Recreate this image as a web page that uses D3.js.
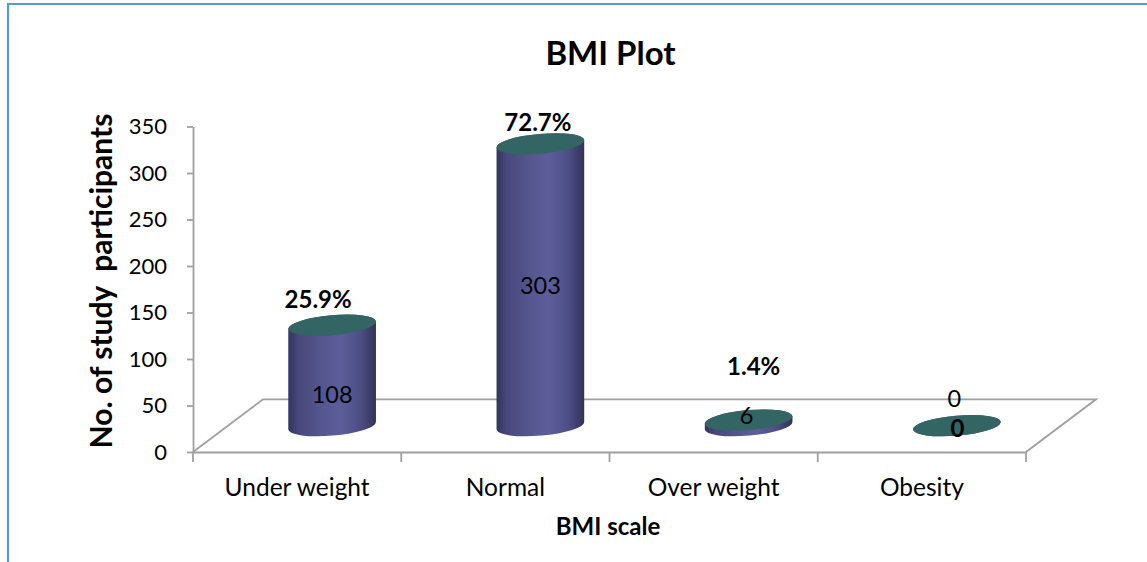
<!DOCTYPE html>
<html>
<head>
<meta charset="utf-8">
<script src="https://cdn.jsdelivr.net/npm/d3@7"></script>
<style>
  html, body { margin: 0; padding: 0; background: #fff; }
  svg { display: block; font-family: Lato, "Open Sans", sans-serif; }
</style>
</head>
<body>
<svg id="chart" width="1147" height="562"></svg>
<script>
// BMI categories and counts of study participants
const categories = ["Under weight", "Normal", "Over weight", "Obesity"];
const participants = [108, 303, 6, 0];
const shareLabels = ["25.9%", "72.7%", "1.4%", "0"];
const yTickValues = [0, 50, 100, 150, 200, 250, 300, 350];

// label placement tweaks (px) relative to each cylinder
const valueLabelShift = [[0, 28], [0, 9], [-2, 1], [-2.5, -18.6]];   // from bar middle
const shareLabelShift = [[-14, -17], [-2.5, -13], [5, -45], [0.5, 11.5]]; // from bar top

const svg = d3.select("#chart");

// plot geometry: front plane + depth offset of the 3D floor
const x0 = 193, x1 = 1026, yBase = 452, yTop = 126.5;
const depth = { dx: 70, dy: -52.7 };
const cyl = { rx: 44, ry: 10, rot: -5 };

const x = d3.scaleBand().domain(categories).range([x0, x1]).paddingInner(0).paddingOuter(0);
const y = d3.scaleLinear().domain([0, 350]).range([yBase, yTop]);

// outer frame (top and left edges)
svg.append("path")
  .attr("d", "M8,562 L8,4 L1147,4")
  .attr("fill", "none").attr("stroke", "#5b9bd5").attr("stroke-width", 2.2);

// gradients
const defs = svg.append("defs");
const bodyGrad = defs.append("linearGradient").attr("id", "body").attr("x1", 0).attr("x2", 1).attr("y1", 0).attr("y2", 0);
[[0, "#34345e"], [0.12, "#48487c"], [0.35, "#54548e"], [0.6, "#5d5d9b"], [0.82, "#4e4e86"], [1, "#323258"]]
  .forEach(([o, c]) => bodyGrad.append("stop").attr("offset", o).attr("stop-color", c));

// title
svg.append("text").attr("x", 610.5).attr("y", 65).attr("text-anchor", "middle")
  .attr("font-weight", "bold").attr("font-size", 33).attr("fill", "#000").text("BMI Plot");

// floor of the 3D plot
const gridColor = "#a0a0a0";
svg.append("path")
  .attr("d", `M${x0},${yBase} L${x0 + depth.dx},${yBase + depth.dy} L${x1 + depth.dx},${yBase + depth.dy} L${x1},${yBase}`)
  .attr("fill", "none").attr("stroke", gridColor).attr("stroke-width", 1.8);

// y axis
const yAxis = svg.append("g").attr("transform", `translate(${x0},0)`)
  .call(d3.axisLeft(y).tickValues(yTickValues).tickSizeInner(6).tickSizeOuter(0).tickPadding(20));
yAxis.select(".domain").attr("stroke", gridColor).attr("stroke-width", 1.8);
yAxis.selectAll(".tick line").attr("stroke", gridColor).attr("stroke-width", 1.8);
yAxis.selectAll(".tick text").attr("font-size", 22).attr("font-family", "Lato, sans-serif").attr("fill", "#000");

// x axis: labels at band centres, ticks at band boundaries
const xAxis = svg.append("g").attr("transform", `translate(0,${yBase})`)
  .call(d3.axisBottom(x).tickSize(0).tickPadding(0));
xAxis.select(".domain").attr("stroke", gridColor).attr("stroke-width", 1.8);
xAxis.selectAll(".tick text").attr("font-size", 24.5).attr("font-family", "Lato, sans-serif")
  .attr("fill", "#000").attr("y", 44).attr("dy", 0);
const bounds = categories.map(c => x(c)).concat([x1]);
xAxis.selectAll(".bound").data(bounds).enter().append("line").attr("class", "bound")
  .attr("x1", d => d).attr("x2", d => d).attr("y1", 0).attr("y2", 10)
  .attr("stroke", gridColor).attr("stroke-width", 1.8);

// axis titles
svg.append("text").attr("x", 608).attr("y", 535).attr("text-anchor", "middle")
  .attr("font-weight", "bold").attr("font-size", 24).text("BMI scale");
svg.append("text").attr("transform", "translate(112,281) rotate(-90)").attr("text-anchor", "middle")
  .attr("font-weight", "bold").attr("font-size", 30).attr("xml:space", "preserve")
  .text("No. of study  participants");

// cylinders sit at mid-depth of the floor
const cx = c => x(c) + x.bandwidth() / 2 + depth.dx / 2;
const cy = v => y(v) + depth.dy / 2;

function cylinderPath(cxv, top, base) {
  const t = cyl.rot * Math.PI / 180;
  const ex = cyl.rx * Math.cos(t), ey = cyl.rx * Math.sin(t);
  return `M${cxv - ex},${top - ey} L${cxv - ex},${base - ey} ` +
    `A${cyl.rx},${cyl.ry} ${cyl.rot} 0 0 ${cxv + ex},${base + ey} ` +
    `L${cxv + ex},${top + ey} ` +
    `A${cyl.rx},${cyl.ry} ${cyl.rot} 0 0 ${cxv - ex},${top - ey} Z`;
}

const bars = svg.append("g").selectAll("g").data(categories).enter().append("g");
bars.append("path")
  .attr("d", (c, i) => cylinderPath(cx(c), cy(participants[i]), cy(0)))
  .attr("fill", "url(#body)");
bars.append("ellipse")
  .attr("cx", c => cx(c)).attr("cy", (c, i) => cy(participants[i]))
  .attr("rx", cyl.rx).attr("ry", cyl.ry)
  .attr("transform", (c, i) => `rotate(${cyl.rot},${cx(c)},${cy(participants[i])})`)
  .attr("fill", "#336565");

// value labels
bars.append("text")
  .attr("x", (c, i) => cx(c) + valueLabelShift[i][0])
  .attr("y", (c, i) => (cy(participants[i]) + cy(0)) / 2 + valueLabelShift[i][1])
  .attr("text-anchor", "middle").attr("font-size", 23.5).attr("fill", "#000")
  .text((c, i) => participants[i]);

// share labels
bars.append("text")
  .attr("x", (c, i) => cx(c) + shareLabelShift[i][0])
  .attr("y", (c, i) => cy(participants[i]) + shareLabelShift[i][1])
  .attr("text-anchor", "middle").attr("font-size", 24).attr("font-weight", "bold").attr("fill", "#000")
  .text((c, i) => shareLabels[i]);
</script>
</body>
</html>
